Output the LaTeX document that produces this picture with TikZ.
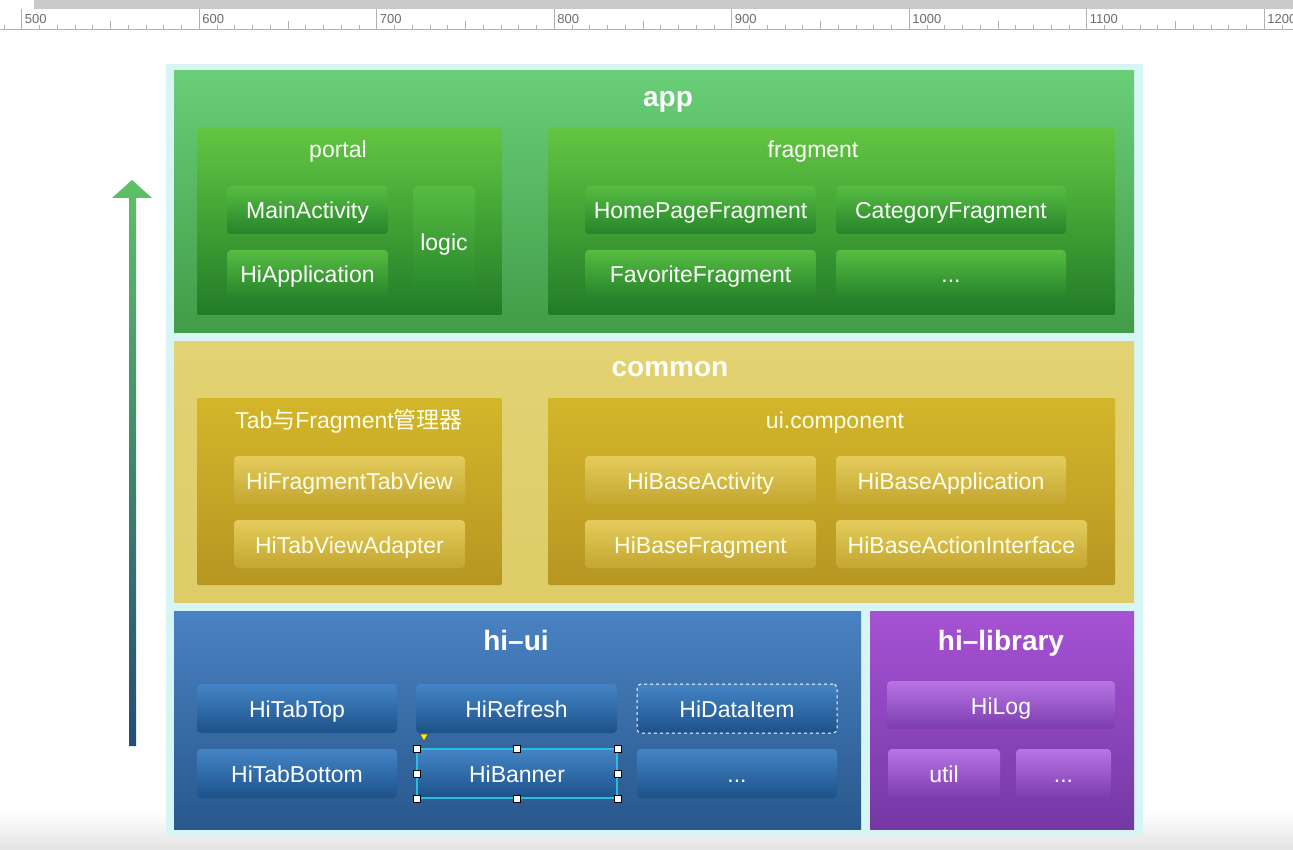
\documentclass[tikz,border=0pt]{standalone}
\usepackage{fontspec}
\setmainfont{Liberation Sans}
\newfontfamily\cjk{Noto Sans CJK SC}
\usetikzlibrary{positioning}
\definecolor{framecyan}{RGB}{216,245,245}
\definecolor{appTop}{RGB}{106,206,120}
\definecolor{appBot}{RGB}{66,156,72}
\definecolor{gGrpTop}{RGB}{98,198,66}
\definecolor{gGrpBot}{RGB}{34,124,40}
\definecolor{gItmTop}{RGB}{86,188,66}
\definecolor{gItmBot}{RGB}{38,132,42}
\definecolor{comTop}{RGB}{226,210,114}
\definecolor{comBot}{RGB}{222,204,104}
\definecolor{yGrpTop}{RGB}{212,182,42}
\definecolor{yGrpBot}{RGB}{182,150,34}
\definecolor{yItmTop}{RGB}{228,204,92}
\definecolor{yItmBot}{RGB}{196,166,48}
\definecolor{blueTop}{RGB}{74,130,194}
\definecolor{blueBot}{RGB}{40,88,140}
\definecolor{bItmTop}{RGB}{68,132,198}
\definecolor{bItmBot}{RGB}{28,82,138}
\definecolor{purpTop}{RGB}{166,82,212}
\definecolor{purpBot}{RGB}{116,56,164}
\definecolor{pItmTop}{RGB}{184,116,228}
\definecolor{pItmBot}{RGB}{124,60,174}
\definecolor{arrGreen}{RGB}{92,194,102}
\definecolor{arrYellow}{RGB}{226,210,96}
\definecolor{arrBlue}{RGB}{36,76,118}
\definecolor{selcyan}{RGB}{40,190,220}
\newcommand\itemfont{\fontsize{23}{26}\selectfont}
\newcommand\titlefont{\bfseries\fontsize{28}{32}\selectfont}
\tikzset{
  box/.style={rectangle,inner sep=0pt,text=white},
  layer/.style={box},
  group/.style={box,rounded corners=2pt},
  item/.style={box,rounded corners=4pt,font=\itemfont,minimum height=48pt,
               text height=20pt,text depth=2pt},
  gitem/.style={item,top color=gItmTop,bottom color=gItmBot},
  yitem/.style={item,top color=yItmTop,bottom color=yItmBot,text=white!92!yellow},
  bitem/.style={item,top color=bItmTop,bottom color=bItmBot,minimum height=49pt},
  pitem/.style={item,top color=pItmTop,bottom color=pItmBot},
  ltitle/.style={text=white,font=\titlefont,inner sep=0pt,text height=24pt,text depth=4pt},
  gtitle/.style={text=white,font=\itemfont,inner sep=0pt,text height=20pt,text depth=2pt},
  handle/.style={draw=black,fill=white,line width=0.6pt,minimum size=7pt,inner sep=0pt},
  rulerline/.style={draw=gray!60,line width=0.6pt},
  rulerlabel/.style={text=gray!85!black,font=\fontsize{13}{14}\selectfont,inner sep=0pt}
}
\begin{document}
\begin{tikzpicture}[x=1pt,y=-1pt]
  \useasboundingbox (0,0) rectangle (1293,850);
  \fill[white] (0,0) rectangle (1293,850);
  \shade[top color=white,bottom color=gray!22] (0,812) rectangle (1293,850);

  %% Ruler
  \fill[gray!42] (0,0) rectangle (1293,9);
  \fill[white] (0,0) rectangle (34,9);
  \draw[rulerline] (0,29) -- (1293,29);
  \foreach \v in {480,490,...,1210}{
    \pgfmathsetmacro\rx{21.7+(\v-500)*1.775}
    \pgfmathtruncatemacro\rmod{mod(\v,100)}
    \pgfmathtruncatemacro\hmod{mod(\v,50)}
    \ifnum\rmod=0
      \draw[rulerline] (\rx,9) -- (\rx,29);
      \node[rulerlabel,anchor=west] (r\v) at (\rx+3,19) {\v};
    \else\ifnum\hmod=0
      \draw[rulerline] (\rx,21) -- (\rx,29);
    \else
      \draw[rulerline] (\rx,25) -- (\rx,29);
    \fi\fi
  }

  %% Frame and layers
  \node[box,fill=framecyan,minimum width=977pt,minimum height=772pt] (frame) at (654.5,450) {};
  \node[layer,top color=appTop,bottom color=appBot,minimum width=960pt,minimum height=261pt] (app) at (654,201.5) {};
  \node[layer,top color=comTop,bottom color=comBot,minimum width=960pt,minimum height=261pt] (common) at (654,471.5) {};
  \node[layer,top color=blueTop,bottom color=blueBot,minimum width=687pt,minimum height=218pt] (hiui) at (517.5,720) {};
  \node[layer,top color=purpTop,bottom color=purpBot,minimum width=264pt,minimum height=218pt] (hilib) at (1002,720) {};

  \node[ltitle] (appT) at (668,97) {app};
  \node[ltitle] (commonT) at (670,366) {common};
  \node[ltitle] (hiuiT) at (516,640) {hi–ui};
  \node[ltitle] (hilibT) at (1001,640) {hi–library};

  %% app
  \node[group,top color=gGrpTop,bottom color=gGrpBot,minimum width=305pt,minimum height=187pt] (portal) at (349.5,221.5) {};
  \node[group,top color=gGrpTop,bottom color=gGrpBot,minimum width=567pt,minimum height=187pt] (fragment) at (831.5,221.5) {};
  \node[gtitle] (portalT) at (338,149) {portal};
  \node[gtitle] (fragmentT) at (813,149) {fragment};

  \node[gitem,minimum width=161pt] (mainact) at (307.5,210) {MainActivity};
  \node[gitem,minimum width=161pt] (hiapp) at (307.5,274) {HiApplication};
  \node[gitem,minimum width=62pt,minimum height=112pt] (logic) at (444,242) {logic};
  \node[gitem,minimum width=231pt] (homefrag) at (700.5,210) {HomePageFragment};
  \node[gitem,minimum width=230pt] (catfrag) at (951,210) {CategoryFragment};
  \node[gitem,minimum width=231pt] (favfrag) at (700.5,274) {FavoriteFragment};
  \node[gitem,minimum width=230pt] (moreapp) at (951,274) {...};

  %% common
  \node[group,top color=yGrpTop,bottom color=yGrpBot,minimum width=305pt,minimum height=187pt] (tabmgr) at (349.5,491.5) {};
  \node[group,top color=yGrpTop,bottom color=yGrpBot,minimum width=567pt,minimum height=187pt] (uicomp) at (831.5,491.5) {};
  \node[gtitle,text=white!92!yellow] (tabmgrT) at (349,419) {Tab{\cjk 与}Fragment{\cjk 管理器}};
  \node[gtitle,text=white!92!yellow] (uicompT) at (835,419) {ui.component};

  \node[yitem,minimum width=231pt] (fragtab) at (349.5,480) {HiFragmentTabView};
  \node[yitem,minimum width=231pt] (tabadapt) at (349.5,544) {HiTabViewAdapter};
  \node[yitem,minimum width=231pt] (baseact) at (700.5,480) {HiBaseActivity};
  \node[yitem,minimum width=230pt] (baseapp) at (951,480) {HiBaseApplication};
  \node[yitem,minimum width=231pt] (basefrag) at (700.5,544) {HiBaseFragment};
  \node[yitem,minimum width=251pt] (baseif) at (961.5,544) {HiBaseActionInterface};

  %% hi-ui
  \node[bitem,minimum width=200pt] (tabtop) at (297,708.5) {HiTabTop};
  \node[bitem,minimum width=201pt] (refresh) at (516.5,708.5) {HiRefresh};
  \node[bitem,minimum width=200pt,draw=white,dashed,line width=1pt] (dataitem) at (737,708.5) {HiDataItem};
  \node[bitem,minimum width=200pt] (tabbot) at (297,773.5) {HiTabBottom};
  \node[bitem,minimum width=200pt,rounded corners=0pt,draw=selcyan,line width=1.2pt] (banner) at (517,773.5) {HiBanner};
  \node[bitem,minimum width=200pt] (moreui) at (737,773.5) {...};
  \foreach \a [count=\i] in {north west,north,north east,east,south east,south,south west,west}
    \node[handle] (hd\i) at (banner.\a) {};
  \draw[fill=yellow,draw=black!70,line width=0.5pt] (420,734) -- (428,734) -- (424,741) -- cycle;

  %% hi-library
  \node[pitem,minimum width=228pt] (hilog) at (1001,705) {HiLog};
  \node[pitem,minimum width=112pt,minimum height=49pt] (util) at (944,773.5) {util};
  \node[pitem,minimum width=95pt,minimum height=49pt] (morelib) at (1063.5,773.5) {...};

  %% Dependency arrow
  \shade[top color=arrGreen,middle color=arrYellow,bottom color=arrBlue]
    (129,746) -- (129,198) -- (112,198) -- (132,180) -- (152,198)
    -- (136,198) -- (136,746) -- cycle;
\end{tikzpicture}
\end{document}
